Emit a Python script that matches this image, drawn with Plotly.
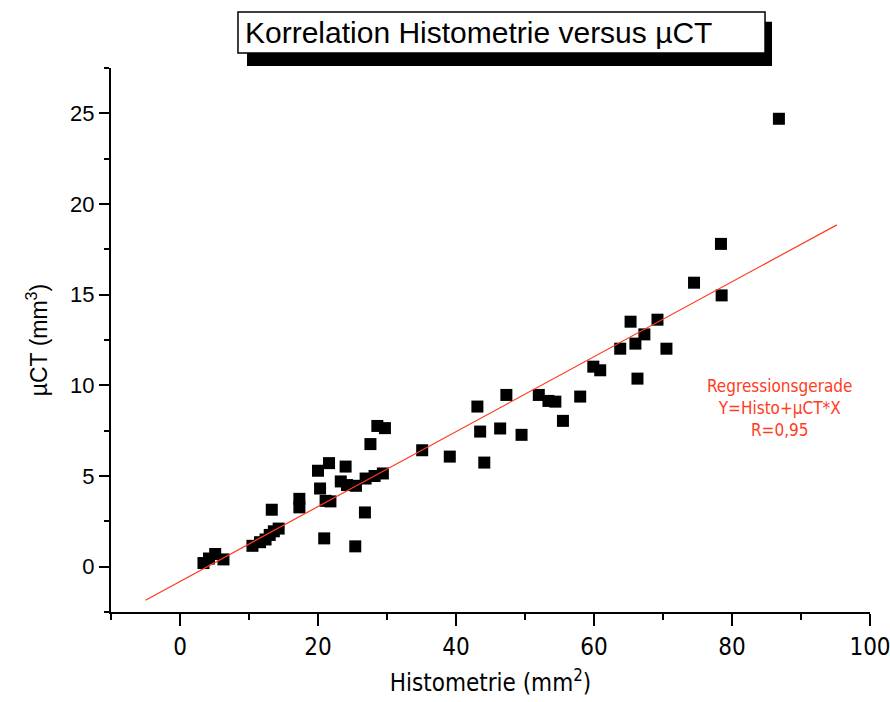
import plotly.graph_objects as go

# Data
histometrie = [86.8, 78.4, 78.5, 74.5, 69.2, 65.3, 67.3, 66.0, 63.8, 70.5, 66.3, 59.9, 60.9,
               58.0, 55.5, 52.0, 53.4, 54.4, 47.3, 43.1, 43.5, 46.4, 49.5, 44.1, 39.1, 35.1,
               28.6, 29.7, 27.6, 20.0, 21.6, 24.0, 23.3, 24.2, 25.5, 26.9, 28.2, 29.4, 20.3,
               17.3, 17.3, 21.1, 21.8, 26.8, 20.9, 25.4, 13.3, 10.5, 11.6, 12.4, 13.0, 13.6,
               14.3, 3.4, 4.2, 5.1, 6.3]
muct = [24.7, 17.8, 14.96, 15.66, 13.62, 13.51, 12.81, 12.3, 12.02, 12.02, 10.37, 11.03, 10.83,
        9.38, 8.04, 9.47, 9.14, 9.1, 9.47, 8.83, 7.45, 7.62, 7.27, 5.74, 6.07, 6.42,
        7.76, 7.64, 6.76, 5.29, 5.71, 5.52, 4.7, 4.5, 4.46, 4.86, 5.0, 5.14, 4.31,
        3.74, 3.27, 3.63, 3.6, 2.99, 1.56, 1.12, 3.14, 1.15, 1.35, 1.5, 1.75, 1.95,
        2.1, 0.2, 0.45, 0.7, 0.4]

reg_x = [-5.0, 95.2]
reg_y = [-1.85, 18.85]

title_text = "Korrelation Histometrie versus µCT"
x_title = "Histometrie (mm<sup>2</sup>)"
y_title = "µCT (mm<sup>3</sup>)"
reg_label = "Regressionsgerade<br>Y=Histo+µCT*X<br>R=0,95"

RED = "#FF3C1E"
NARROW = "Liberation Sans Narrow, DejaVu Sans Condensed, Arial Narrow, Liberation Sans, Arial, sans-serif"
SANS = "Liberation Sans, Arial, sans-serif"

fig = go.Figure()
fig.add_trace(go.Scatter(x=histometrie, y=muct, mode="markers",
                         marker=dict(symbol="square", size=12, color="black",
                                     line=dict(width=0)),
                         showlegend=False, hoverinfo="x+y"))
fig.add_trace(go.Scatter(x=reg_x, y=reg_y, mode="lines",
                         line=dict(color=RED, width=1.2), showlegend=False))

fig.update_layout(
    width=890, height=702,
    margin=dict(l=111, r=20, t=68, b=90),
    paper_bgcolor="white", plot_bgcolor="white",
    font=dict(family=SANS, color="black"),
    xaxis=dict(range=[-10, 100.001], dtick=20, tick0=0, showgrid=False, zeroline=False,
               automargin=False, ticklabeloverflow="allow",
               showline=True, linecolor="black", linewidth=2,
               ticks="outside", ticklen=12, tickwidth=2, tickcolor="black",
               minor=dict(dtick=10, tick0=0, ticks="outside", ticklen=6, tickwidth=2,
                          tickcolor="black", showgrid=False),
               tickfont=dict(family=NARROW, size=24),
               title=dict(text=x_title, font=dict(family=NARROW, size=24), standoff=14)),
    yaxis=dict(range=[-2.5, 27.5], dtick=5, tick0=0, showgrid=False, zeroline=False,
               automargin=False,
               showline=True, linecolor="black", linewidth=2,
               ticks="outside", ticklen=10, tickwidth=2, tickcolor="black",
               minor=dict(dtick=2.5, tick0=0, ticks="outside", ticklen=5, tickwidth=2,
                          tickcolor="black", showgrid=False),
               tickfont=dict(family=SANS, size=22),
               title=dict(text=y_title, font=dict(family=SANS, size=23), standoff=16)),
    shapes=[
        dict(type="rect", xref="paper", yref="paper", x0=0.1792, x1=0.8709,
             y0=1.0037, y1=1.085, fillcolor="black", line=dict(width=0), layer="above"),
        dict(type="rect", xref="paper", yref="paper", x0=0.1673, x1=0.8617,
             y0=1.0276, y1=1.1029, fillcolor="white", line=dict(color="black", width=1.5),
             layer="above"),
    ],
    annotations=[
        dict(text=title_text, xref="paper", yref="paper", x=0.1739, y=1.066,
             xanchor="left", yanchor="middle", showarrow=False,
             font=dict(family=SANS, size=30, color="black")),
        dict(text=reg_label, xref="paper", yref="paper", x=0.8814, y=0.375,
             xanchor="center", yanchor="middle", showarrow=False, align="center",
             font=dict(family=NARROW, size=17, color=RED)),
    ],
)

fig.write_html("out.html", config={"displayModeBar": False},
               post_script="document.body.style.margin='0';document.body.style.padding='0';")
